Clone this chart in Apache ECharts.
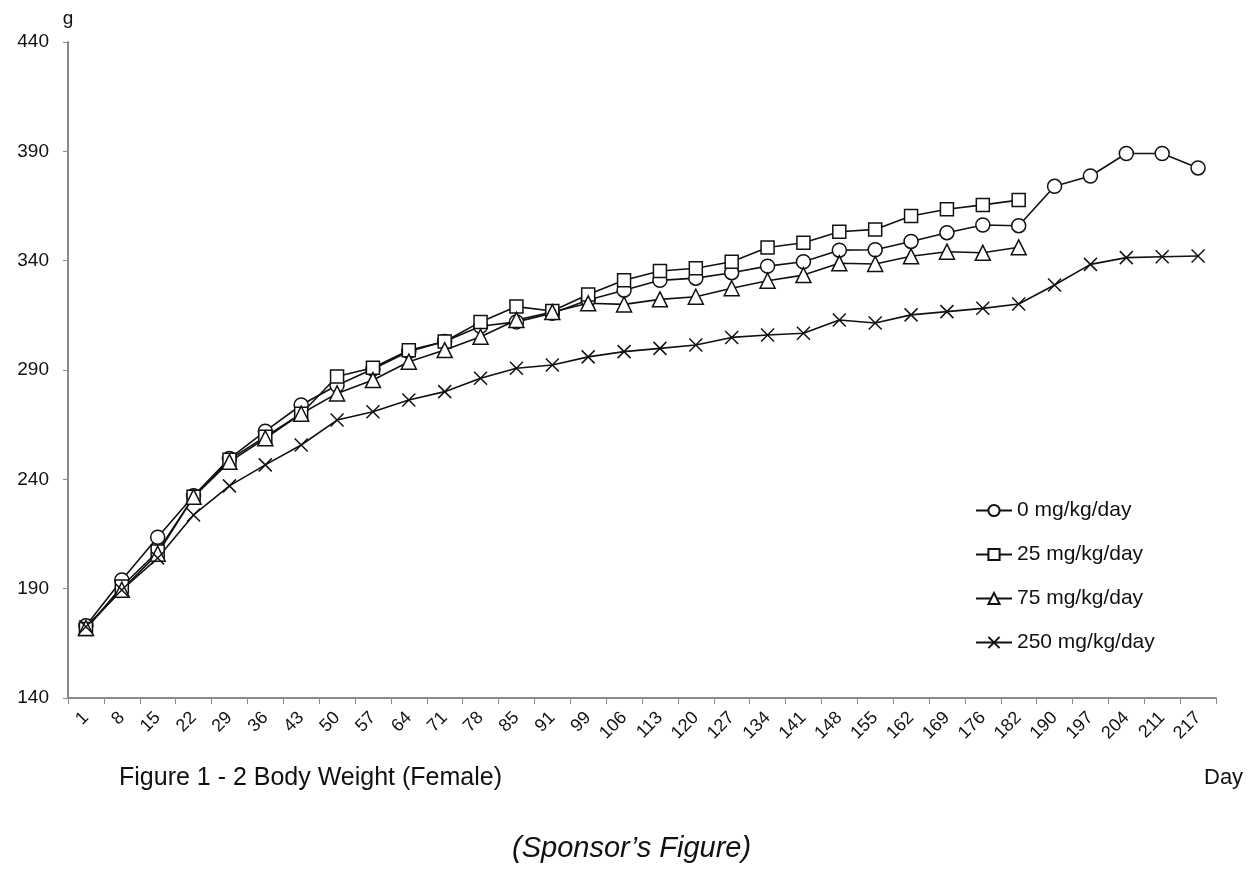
<!DOCTYPE html>
<html><head><meta charset="utf-8">
<script src="https://cdn.jsdelivr.net/npm/echarts@6/dist/echarts.min.js"></script>
<style>html,body{margin:0;padding:0;background:#fff}#c{width:1255px;height:869px}</style>
</head><body><div id="c"></div>
<script>
const days = [1,8,15,22,29,36,43,50,57,64,71,78,85,91,99,106,113,120,127,134,141,148,155,162,169,176,182,190,197,204,211,217];
const dose0 = [173,194,213.5,232.5,249.5,262,274,283,290.5,298.5,303,310,312,316,322,326.5,331,332,334.5,337.5,339.5,344.8,345,348.8,352.8,356.3,356,374,378.7,389,389,382.4];
const dose25 = [171.5,191,207,232,249,259.5,270,287,291,299,303,312,319,317,324.5,331,335.3,336.5,339.5,346,348.2,353.2,354.3,360.4,363.5,365.5,367.7];
const dose75 = [172,189.5,206,232,248,258.8,270,279.3,285.4,293.8,299.1,305.2,312.9,316.5,320.5,320,322.3,323.5,327.4,330.8,333.4,338.8,338.5,342,344.1,343.6,346.1];
const dose250 = [172.6,189.4,204,223.7,237,246.6,255.7,267.1,270.9,276.3,280.1,286.2,290.8,292.3,296,298.4,299.9,301.4,304.9,306,306.8,312.9,311.5,315.2,316.7,318.2,320.2,328.9,338.3,341.4,341.8,342.1];
const seriesNames = ['0 mg/kg/day','25 mg/kg/day','75 mg/kg/day','250 mg/kg/day'];
const yTicks = {min:140, max:440, step:50};

const font = "'Liberation Sans', Arial, sans-serif";
const chart = echarts.init(document.getElementById('c'));
const xSym = 'path://M0,0L10,10M10,0L0,10';
function mk(name, data, symbol, size, fill){
  return {
    name, type:'line', data, symbol, symbolSize:size, showAllSymbol:true,
    lineStyle:{color:'#111', width:1.6},
    itemStyle:{color:fill, borderColor:'#111', borderWidth:1.5},
    emphasis:{disabled:true}, animation:false, connectNulls:false
  };
}
chart.setOption({
  animation:false,
  grid:{left:68, right:39, top:42, bottom:171},
  legend:{
    orient:'vertical', left:970, top:495, itemGap:23, itemWidth:36, itemHeight:14,
    textStyle:{fontFamily:font, fontSize:21, color:'#111'},
    data:seriesNames
  },
  xAxis:{
    type:'category', data:days.map(String), boundaryGap:true,
    axisLine:{lineStyle:{color:'#8a8a8a', width:2}},
    axisTick:{show:true, length:6, lineStyle:{color:'#8a8a8a'}},
    axisLabel:{rotate:45, interval:0, fontFamily:font, fontSize:18, color:'#111', margin:17}
  },
  yAxis:{
    type:'value', min:yTicks.min, max:yTicks.max, interval:yTicks.step,
    name:'g', nameLocation:'end', nameGap:14,
    nameTextStyle:{fontFamily:font, fontSize:19, color:'#111', align:'center'},
    splitLine:{show:false},
    axisLine:{show:true, lineStyle:{color:'#8a8a8a', width:2}},
    axisTick:{show:true, length:5, lineStyle:{color:'#8a8a8a'}},
    axisLabel:{fontFamily:font, fontSize:19, color:'#111', margin:19}
  },
  graphic:[
    {type:'text', left:119, top:766, style:{text:'Figure 1 - 2 Body Weight (Female)', font:'25px '+font, fill:'#111'}},
    {type:'text', left:1204, top:767, style:{text:'Day', font:'22px '+font, fill:'#111'}},
    {type:'text', left:512, top:834, style:{text:'(Sponsor\u2019s Figure)', font:'italic 29px '+font, fill:'#111'}}
  ],
  series:[
    mk(seriesNames[0], dose0, 'circle', 14, '#fff'),
    mk(seriesNames[1], dose25, 'rect', 13, '#fff'),
    mk(seriesNames[2], dose75, 'triangle', 15, '#fff'),
    mk(seriesNames[3], dose250, xSym, 13, '#111')
  ]
});
</script></body></html>
